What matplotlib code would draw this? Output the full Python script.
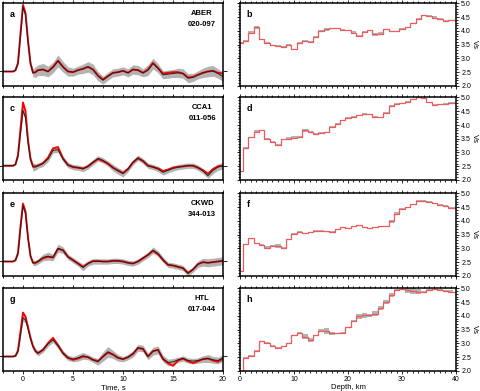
import numpy as np
import matplotlib
matplotlib.use("Agg")
from matplotlib import pyplot as plt
from matplotlib.ticker import MultipleLocator, FormatStrFormatter

plt.rcParams['font.family'] = ['Liberation Sans', 'DejaVu Sans']
plt.rcParams['font.size'] = 5.5

# ---- receiver functions (left column) ----
time = [-2, -1.5, -1, -0.75, -0.5, -0.25, 0, 0.25, 0.5, 0.75, 1, 1.25, 1.5] + list(np.arange(2, 20.5, 0.5))

stations = ['ABER', 'CCA1', 'CKWD', 'HTL']
codes = ['020-097', '011-056', '344-013', '017-044']

rf_obs_a = [0, 0, 0, 0.02, 0.12, 0.55, 0.97, 0.85, 0.45, 0.12, -0.02, -0.01, 0.02,
            0.03, 0.0, 0.06, 0.16, 0.07, 0.0, -0.01, 0.02, 0.04, 0.07, 0.03, -0.07, -0.13, -0.07,
            -0.02, -0.01, 0.01, -0.02, 0.03, 0.02, -0.02, 0.02, 0.12, 0.05, -0.05, -0.04, -0.03,
            -0.02, -0.03, -0.1, -0.09, -0.05, -0.02, 0.0, 0.01, -0.03, -0.08]
rf_syn_a = [0, 0, 0, 0.02, 0.13, 0.57, 1.0, 0.88, 0.46, 0.12, -0.02, -0.01, 0.02,
            0.03, 0.0, 0.07, 0.16, 0.07, 0.0, -0.01, 0.02, 0.04, 0.07, 0.03, -0.06, -0.12, -0.07,
            -0.02, -0.01, 0.01, -0.02, 0.03, 0.02, -0.02, 0.03, 0.13, 0.05, -0.03, -0.02, -0.01,
            -0.01, -0.03, -0.09, -0.08, -0.05, -0.02, 0.0, 0.01, -0.02, -0.03]
rf_sd_a = [0.005, 0.005, 0.005, 0.01, 0.02, 0.03, 0.03, 0.03, 0.03, 0.04, 0.06, 0.08, 0.08,
           0.09, 0.08, 0.08, 0.09, 0.08, 0.07, 0.06, 0.06, 0.07, 0.08, 0.08, 0.07, 0.06, 0.06,
           0.06, 0.06, 0.06, 0.06, 0.07, 0.07, 0.06, 0.08, 0.08, 0.07, 0.06, 0.06, 0.06,
           0.07, 0.07, 0.07, 0.06, 0.06, 0.07, 0.08, 0.08, 0.07, 0.07]

rf_obs_c = [0, 0, 0, 0.02, 0.15, 0.5, 0.83, 0.72, 0.35, 0.1, -0.02, -0.02, 0.0,
            0.03, 0.1, 0.23, 0.24, 0.1, 0.01, -0.02, -0.03, -0.05, -0.01, 0.05, 0.11, 0.08, 0.03,
            -0.03, -0.08, -0.12, -0.05, 0.05, 0.12, 0.07, 0.0, -0.02, -0.05, -0.1, -0.07, -0.04,
            -0.02, -0.01, 0.0, 0.0, -0.03, -0.08, -0.15, -0.07, -0.02, 0.0]
rf_syn_c = [0, 0, 0, 0.02, 0.16, 0.55, 0.95, 0.82, 0.38, 0.1, -0.01, -0.01, 0.0,
            0.04, 0.12, 0.26, 0.28, 0.11, 0.01, -0.02, -0.03, -0.04, -0.01, 0.05, 0.1, 0.07, 0.03,
            -0.03, -0.07, -0.11, -0.05, 0.05, 0.11, 0.07, 0.0, -0.02, -0.04, -0.08, -0.06, -0.03,
            -0.02, -0.01, 0.0, 0.0, -0.03, -0.07, -0.12, -0.05, -0.01, 0.0]
rf_sd_c = [0.005, 0.005, 0.005, 0.01, 0.02, 0.04, 0.05, 0.05, 0.04, 0.04, 0.06, 0.05, 0.04,
           0.04, 0.04, 0.04, 0.04, 0.04, 0.04, 0.04, 0.04, 0.04, 0.04, 0.04, 0.04, 0.04, 0.04,
           0.05, 0.05, 0.05, 0.04, 0.04, 0.04, 0.04, 0.04, 0.04, 0.04, 0.04, 0.04, 0.04,
           0.04, 0.04, 0.04, 0.04, 0.04, 0.04, 0.04, 0.05, 0.05, 0.05]

rf_obs_e = [0, 0, 0, 0.02, 0.12, 0.5, 0.84, 0.72, 0.35, 0.08, -0.02, -0.02, 0.0,
            0.06, 0.08, 0.06, 0.2, 0.17, 0.07, 0.02, -0.03, -0.09, -0.03, 0.0, 0.0, 0.0, 0.0,
            0.01, 0.01, 0.0, -0.02, -0.03, 0.0, 0.05, 0.1, 0.17, 0.12, 0.03, -0.05, -0.06,
            -0.08, -0.1, -0.18, -0.12, -0.04, -0.01, -0.02, -0.01, 0.0, 0.01]
rf_syn_e = [0, 0, 0, 0.02, 0.13, 0.53, 0.87, 0.75, 0.36, 0.08, -0.02, -0.02, 0.0,
            0.05, 0.07, 0.06, 0.19, 0.17, 0.07, 0.02, -0.03, -0.08, -0.03, 0.01, 0.01, 0.0, 0.0,
            0.01, 0.01, 0.0, -0.02, -0.03, 0.0, 0.05, 0.1, 0.16, 0.11, 0.02, -0.05, -0.06,
            -0.08, -0.1, -0.17, -0.12, -0.04, -0.01, -0.02, -0.01, 0.0, 0.01]
rf_sd_e = [0.005, 0.005, 0.005, 0.01, 0.02, 0.03, 0.04, 0.04, 0.03, 0.03, 0.04, 0.04, 0.04,
           0.05, 0.06, 0.05, 0.06, 0.05, 0.04, 0.04, 0.04, 0.05, 0.04, 0.04, 0.04, 0.04, 0.04,
           0.04, 0.04, 0.04, 0.04, 0.04, 0.04, 0.04, 0.04, 0.05, 0.04, 0.04, 0.04, 0.04,
           0.04, 0.04, 0.04, 0.04, 0.05, 0.06, 0.06, 0.06, 0.06, 0.06]

rf_obs_g = [0, 0, 0, 0.01, 0.08, 0.33, 0.58, 0.55, 0.42, 0.27, 0.15, 0.08, 0.05,
            0.1, 0.19, 0.25, 0.16, 0.05, -0.02, -0.04, -0.02, 0.01, -0.01, -0.05, -0.08, 0.0, 0.07,
            0.03, -0.02, -0.04, -0.01, 0.04, 0.13, 0.12, 0.0, 0.08, 0.1, -0.03, -0.09, -0.08,
            -0.05, -0.03, -0.06, -0.07, -0.06, -0.04, -0.03, -0.05, -0.06, -0.02]
rf_syn_g = [0, 0, 0, 0.01, 0.09, 0.37, 0.66, 0.6, 0.44, 0.28, 0.15, 0.08, 0.05,
            0.1, 0.2, 0.28, 0.17, 0.05, -0.02, -0.05, -0.03, 0.0, -0.01, -0.05, -0.07, 0.0, 0.06,
            0.03, -0.02, -0.04, -0.01, 0.04, 0.13, 0.11, 0.0, 0.08, 0.1, -0.04, -0.1, -0.14,
            -0.06, -0.03, -0.07, -0.1, -0.07, -0.04, -0.03, -0.06, -0.08, -0.03]
rf_sd_g = [0.005, 0.005, 0.005, 0.01, 0.02, 0.04, 0.05, 0.05, 0.04, 0.04, 0.04, 0.04, 0.04,
           0.04, 0.04, 0.04, 0.04, 0.04, 0.04, 0.04, 0.05, 0.05, 0.04, 0.04, 0.05, 0.07, 0.08,
           0.06, 0.05, 0.04, 0.04, 0.05, 0.05, 0.05, 0.05, 0.06, 0.06, 0.05, 0.05, 0.05,
           0.04, 0.04, 0.04, 0.04, 0.04, 0.05, 0.06, 0.05, 0.05, 0.05]

# ---- shear-velocity profiles (right column) ----
depth = list(range(41))

vs_b = [3.57, 3.63, 3.93, 4.12, 3.69, 3.57, 3.48, 3.45, 3.41, 3.5, 3.33, 3.57, 3.63, 3.6, 3.79,
        3.99, 4.05, 4.09, 4.1, 4.03, 4.02, 3.93, 3.81, 3.97, 4.02, 3.87, 3.9, 4.05, 3.99, 3.99,
        4.08, 4.12, 4.27, 4.44, 4.56, 4.54, 4.48, 4.44, 4.36, 4.39, 4.39]
vs_sd_b = [0.02, 0.02, 0.05, 0.04, 0.02, 0.02, 0.02, 0.02, 0.04, 0.02, 0.02, 0.02, 0.05, 0.02, 0.02,
           0.05, 0.04, 0.02, 0.02, 0.02, 0.02, 0.06, 0.05, 0.02, 0.02, 0.05, 0.05, 0.02, 0.02, 0.02,
           0.02, 0.02, 0.02, 0.03, 0.02, 0.02, 0.05, 0.04, 0.02, 0.02, 0.02]

vs_d = [2.32, 3.17, 3.56, 3.76, 3.80, 3.48, 3.38, 3.29, 3.48, 3.5, 3.54, 3.57, 3.8, 3.74, 3.68,
        3.72, 3.74, 3.94, 4.05, 4.17, 4.25, 4.3, 4.35, 4.41, 4.39, 4.3, 4.28, 4.45, 4.7, 4.77,
        4.79, 4.84, 4.94, 5.0, 4.98, 4.82, 4.74, 4.76, 4.78, 4.8, 4.8]
vs_sd_d = [0.01, 0.02, 0.02, 0.05, 0.02, 0.04, 0.02, 0.02, 0.02, 0.06, 0.05, 0.02, 0.04, 0.04, 0.02,
           0.02, 0.02, 0.02, 0.03, 0.02, 0.03, 0.02, 0.02, 0.02, 0.02, 0.02, 0.02, 0.02, 0.04, 0.03,
           0.02, 0.02, 0.02, 0.03, 0.02, 0.02, 0.02, 0.02, 0.02, 0.02, 0.02]

vs_f = [2.16, 3.15, 3.36, 3.19, 3.12, 3.02, 3.09, 3.09, 3.02, 3.33, 3.52, 3.6, 3.54, 3.59, 3.64,
        3.63, 3.62, 3.6, 3.69, 3.77, 3.73, 3.8, 3.83, 3.77, 3.73, 3.77, 3.8, 3.8, 3.98, 4.26,
        4.44, 4.5, 4.6, 4.72, 4.73, 4.69, 4.63, 4.59, 4.54, 4.47, 4.47]
vs_sd_f = [0.01, 0.02, 0.02, 0.02, 0.02, 0.05, 0.02, 0.07, 0.02, 0.02, 0.02, 0.04, 0.02, 0.02, 0.04,
           0.03, 0.02, 0.02, 0.03, 0.02, 0.02, 0.02, 0.02, 0.02, 0.02, 0.02, 0.02, 0.02, 0.05, 0.06,
           0.04, 0.02, 0.02, 0.02, 0.02, 0.02, 0.02, 0.02, 0.02, 0.02, 0.02]

vs_h = [2.0, 2.48, 2.54, 2.72, 3.08, 3.02, 2.92, 2.84, 2.9, 3.0, 3.3, 3.38, 3.24, 3.12, 3.3,
        3.46, 3.44, 3.36, 3.36, 3.38, 3.58, 3.82, 3.98, 4.02, 4.02, 4.08, 4.28, 4.5, 4.76, 4.94,
        4.96, 4.94, 4.92, 4.88, 4.88, 4.94, 4.96, 4.94, 4.9, 4.88, 4.85]
vs_sd_h = [0.01, 0.02, 0.02, 0.05, 0.02, 0.04, 0.02, 0.02, 0.02, 0.02, 0.02, 0.02, 0.1, 0.06, 0.02,
           0.06, 0.1, 0.06, 0.02, 0.02, 0.02, 0.04, 0.08, 0.1, 0.06, 0.08, 0.08, 0.08, 0.06, 0.02,
           0.02, 0.1, 0.12, 0.08, 0.03, 0.02, 0.02, 0.02, 0.05, 0.05, 0.03]

rf_obs = [rf_obs_a, rf_obs_c, rf_obs_e, rf_obs_g]
rf_syn = [rf_syn_a, rf_syn_c, rf_syn_e, rf_syn_g]
rf_sd = [rf_sd_a, rf_sd_c, rf_sd_e, rf_sd_g]
vs = [vs_b, vs_d, vs_f, vs_h]
vs_sd = [vs_sd_b, vs_sd_d, vs_sd_f, vs_sd_h]
letters = [('a', 'b'), ('c', 'd'), ('e', 'f'), ('g', 'h')]

W, H = 480, 391
fig = plt.figure(figsize=(W / 100, H / 100), dpi=100)

row_tops = [3.3, 97.5, 193.3, 288.3]
row_h = 82.5
gray = '#b3b3b3'


def style_axes(ax):
    for s in ax.spines.values():
        s.set_linewidth(1.1)
    ax.tick_params(which='both', direction='out', top=True, right=True, width=0.6,
                   labelsize=5, pad=1.2)
    ax.tick_params(which='major', length=2.5)
    ax.tick_params(which='minor', length=1.3)


for i in range(4):
    y0 = 1 - (row_tops[i] + row_h) / H
    hh = row_h / H

    # receiver function
    ax = fig.add_axes([3 / W, y0, 220 / W, hh])
    t = np.array(time)
    obs = np.array(rf_obs[i])
    sd = np.array(rf_sd[i])
    ax.fill_between(t, obs - sd, obs + sd, color=gray, lw=0)
    ax.plot(t, rf_syn[i], color='red', lw=1.4)
    ax.plot(t, obs, color='#222222', lw=0.7)
    ax.set_xlim(-2, 20)
    ax.set_ylim(-0.215, 1.025)
    ax.set_yticks([0])
    ax.set_yticklabels([])
    ax.xaxis.set_major_locator(MultipleLocator(5))
    ax.xaxis.set_minor_locator(MultipleLocator(1))
    style_axes(ax)
    ax.tick_params(axis='y', length=3)
    ax.text(0.03, 0.87, letters[i][0], transform=ax.transAxes, fontweight='bold',
            fontsize=6.5, va='center', ha='left')
    ax.text(0.905, 0.88, stations[i], transform=ax.transAxes, fontweight='bold',
            fontsize=5.5, va='center', ha='center')
    ax.text(0.905, 0.745, codes[i], transform=ax.transAxes, fontweight='bold',
            fontsize=5.5, va='center', ha='center')
    if i == 3:
        ax.set_xlabel('Time, s', fontsize=5.5, labelpad=1)
    else:
        ax.set_xticklabels([])

    # velocity profile
    ax2 = fig.add_axes([240 / W, y0, 216 / W, hh])
    v = np.array(vs[i])
    vsd = np.array(vs_sd[i])
    ax2.fill_between(depth, v - vsd, v + vsd, step='mid', color=gray, lw=0)
    ax2.step(depth, v, where='mid', color='#ef5a5a', lw=0.9)
    ax2.set_xlim(0, 40)
    ax2.set_ylim(2.0, 5.0)
    ax2.xaxis.set_major_locator(MultipleLocator(10))
    ax2.xaxis.set_minor_locator(MultipleLocator(1))
    ax2.yaxis.set_major_locator(MultipleLocator(0.5))
    ax2.yaxis.set_minor_locator(MultipleLocator(0.1))
    style_axes(ax2)
    ax2.tick_params(axis='y', labelleft=False, labelright=True)
    ax2.yaxis.set_major_formatter(FormatStrFormatter('%.1f'))
    ax2.yaxis.set_label_position('right')
    ax2.set_ylabel('Vs', rotation=270, fontsize=5.5, labelpad=5)
    ax2.text(0.03, 0.87, letters[i][1], transform=ax2.transAxes, fontweight='bold',
             fontsize=6.5, va='center', ha='left')
    if i == 3:
        ax2.set_xlabel('Depth, km', fontsize=5.5, labelpad=1)
    else:
        ax2.set_xticklabels([])

fig.savefig('out.png', dpi=100)
